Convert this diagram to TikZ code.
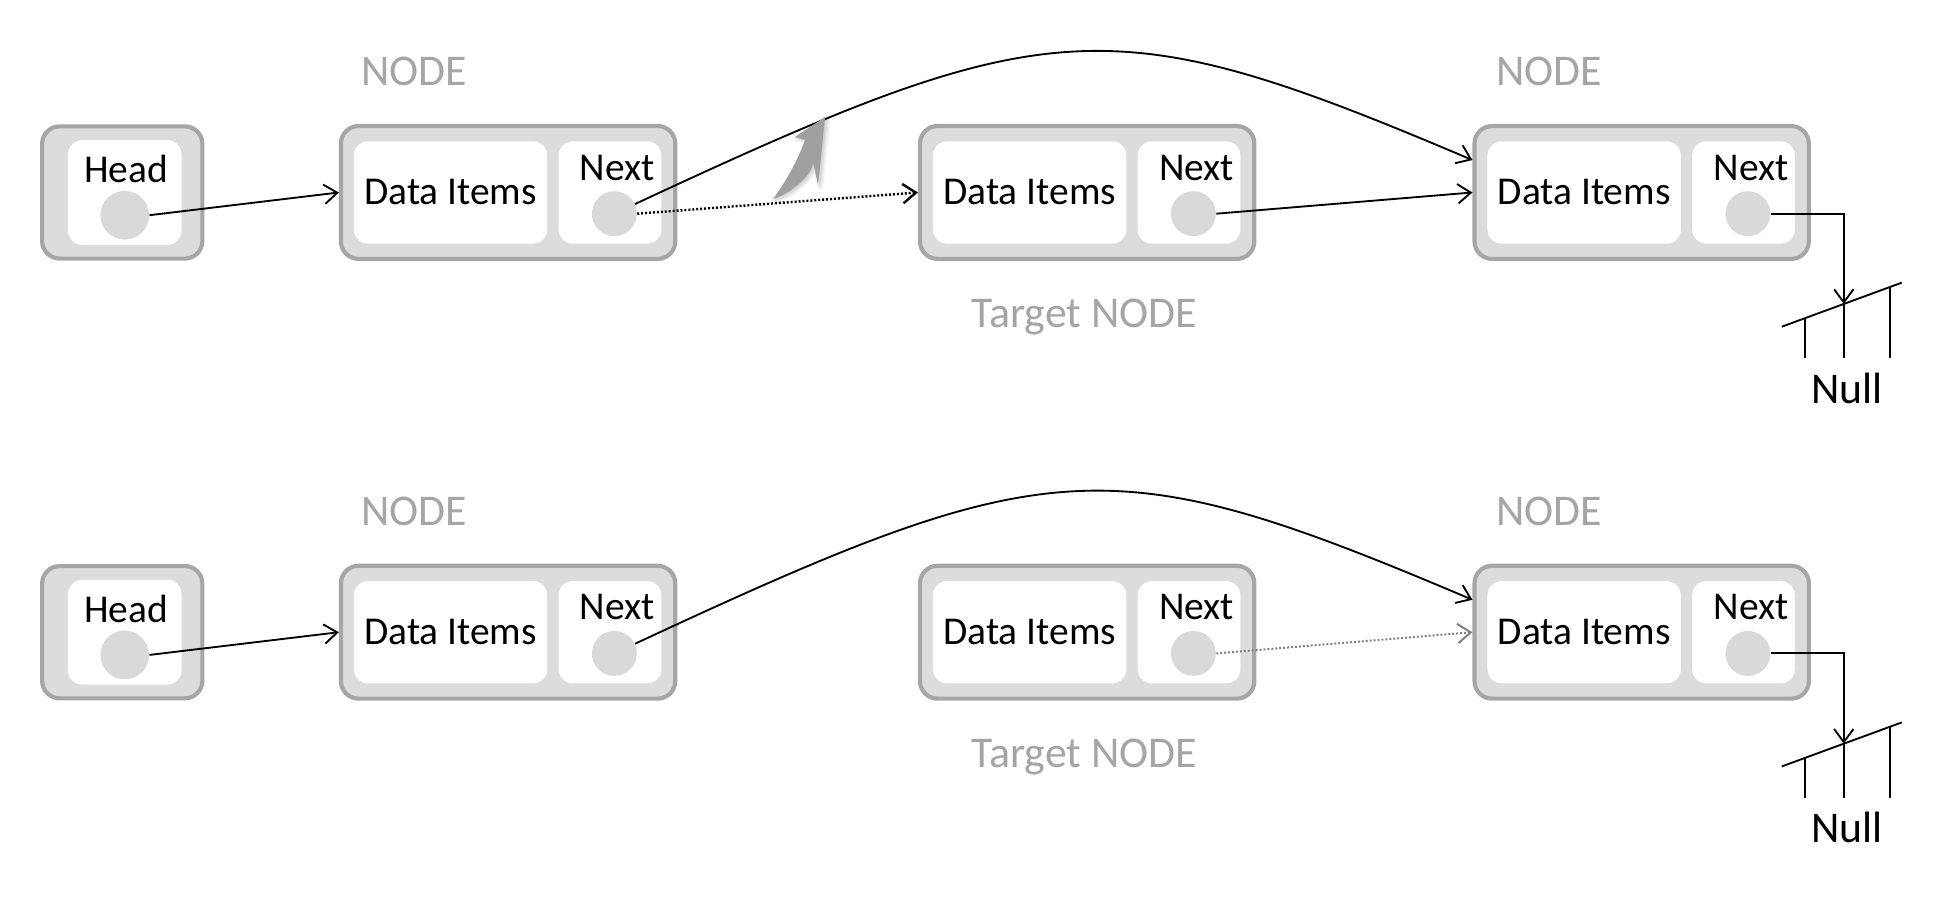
\documentclass[tikz,border=0pt]{standalone}
\usepackage{fontspec}
\setmainfont{Carlito}
\usepackage{tikz}
\usetikzlibrary{arrows.meta, positioning, calc, shadows.blur}
\definecolor{RimGray}{HTML}{A6A6A6}
\definecolor{CardGray}{HTML}{DCDCDC}
\definecolor{DotGray}{HTML}{D9D9D9}
\definecolor{TagGray}{HTML}{A5A5A5}
\definecolor{SwooshGray}{HTML}{A0A0A0}
\definecolor{FadeInk}{HTML}{7F7F7F}

\begin{document}
\begin{tikzpicture}[
    font=\fontsize{18}{20}\selectfont,
    every node/.style={align=center},
    cell/.style={
      rounded corners=8pt, draw=RimGray, fill=CardGray, line width=1.9pt,
      minimum width=5.36cm, minimum height=2.13cm, inner sep=0pt,
    },
    headcell/.style={cell, minimum width=2.57cm, minimum height=2.12cm},
    slot/.style={
      rounded corners=6.5pt, fill=white, inner sep=0pt,
      minimum height=1.64cm,
    },
    ptr/.style={circle, fill=DotGray, minimum size=0.72cm, inner sep=0pt},
    tag/.style={font=\fontsize{20}{22}\selectfont, text=TagGray},
    link/.style={
      draw=black, line width=0.85pt,
      -{Straight Barb[length=2.1mm, width=3.1mm]}
    },
    dotlink/.style={link, line width=1.1pt, dash pattern=on 0.9pt off 0.9pt},
  ]
    \useasboundingbox (0,0) rectangle (31.36,-14.46);

    \foreach \rw/\yc in {a/-3.086, b/-10.136} {
      % head pointer
      \node[headcell] (hd-\rw) at (1.96,\yc) {};
      \node[slot, minimum width=1.82cm, minimum height=1.68cm]
        (hd-\rw-in) at (2.00,\yc) {};
      \node (hd-\rw-txt) at (2.02,{\yc+0.38}) {Head};
      \node[ptr, minimum size=0.78cm] (hd-\rw-ptr) at (2.00,{\yc-0.364}) {};

      % list cells
      \foreach \nm/\cx in {n1/8.146, tg/17.43, n3/26.32} {
        \node[cell] (\nm-\rw) at (\cx,\yc) {};
        \node[slot, minimum width=3.1cm, anchor=west]
          (\nm-\rw-dat) at ([xshift=0.234cm]\nm-\rw.west) {Data Items};
        \node[slot, minimum width=1.646cm, anchor=east]
          (\nm-\rw-nx) at ([xshift=-0.25cm]\nm-\rw.east) {};
        \node (\nm-\rw-txt) at ($(\nm-\rw-nx)+(0.12,0.40)$) {Next};
        \node[ptr] (\nm-\rw-ptr) at ($(\nm-\rw-nx)+(0.07,-0.34)$) {};
      }

      \node[tag] (lb-\rw-1) at (6.64,{\yc+1.936}) {NODE};
      \node[tag] (lb-\rw-2) at (24.84,{\yc+1.936}) {NODE};
      \node[tag] (lb-\rw-3) at (17.38,{\yc-1.994}) {Target NODE};

      % null ground
      \coordinate (gl-\rw) at (28.566,{\yc-2.152});
      \coordinate (gr-\rw) at (30.49,{\yc-1.446});
      \coordinate (tb-\rw) at (0,{\yc-2.654});
      \coordinate (tk1-\rw) at ($(gl-\rw)!0.194!(gr-\rw)$);
      \coordinate (tk2-\rw) at ($(gl-\rw)!0.517!(gr-\rw)$);
      \coordinate (tk3-\rw) at ($(gl-\rw)!0.901!(gr-\rw)$);
      \draw[line width=0.85pt] (gl-\rw) -- (gr-\rw);
      \draw[line width=0.85pt] (tk1-\rw) -- (tk1-\rw |- tb-\rw);
      \draw[line width=0.85pt] (tk2-\rw) -- (tk2-\rw |- tb-\rw);
      \draw[line width=0.85pt] (tk3-\rw) -- (tk3-\rw |- tb-\rw);
      \node[font=\fontsize{20}{22}\selectfont] (null-\rw)
        at (29.61,{\yc-3.134}) {Null};

      \draw[link] (hd-\rw-ptr.east) -- (n1-\rw.west);
      \draw[link] (n1-\rw-ptr)
        to[out=25, in=157, out looseness=1.4, in looseness=1.2]
        ([yshift=0.52cm]n3-\rw.west);
      \draw[link] (n3-\rw-ptr.east) -| (tk2-\rw);
    }

    % before removal
    \draw[dotlink] (n1-a-ptr.east) -- (tg-a.west);
    \draw[link] (tg-a-ptr.east) -- (n3-a.west);
    \fill[SwooshGray,
      blur shadow={shadow xshift=1pt, shadow yshift=-0.6pt, shadow opacity=25}]
      (12.394,-3.19) .. controls (12.56,-2.98) and (12.80,-2.56) .. (12.906,-2.244)
      -- (12.746,-2.196) -- (13.228,-1.876) -- (13.116,-2.966) -- (13.036,-2.614)
      .. controls (13.00,-2.84) and (12.64,-3.12) .. cycle;

    % after removal
    \draw[dotlink, draw=FadeInk, line width=0.9pt] (tg-b-ptr.east) -- (n3-b.west);
  \end{tikzpicture}
\end{document}
